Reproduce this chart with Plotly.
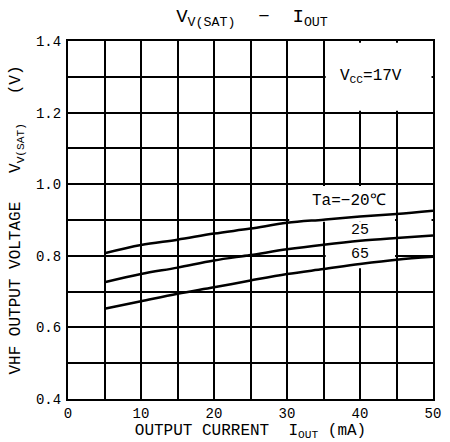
import plotly.graph_objects as go

# Data
i_out = [5, 10, 15, 20, 25, 30, 35, 40, 45, 50]
v_m20 = [0.807, 0.830, 0.845, 0.862, 0.876, 0.892, 0.901, 0.910, 0.917, 0.926]
v_25 = [0.726, 0.749, 0.767, 0.787, 0.802, 0.818, 0.831, 0.842, 0.850, 0.857]
v_65 = [0.652, 0.673, 0.694, 0.712, 0.731, 0.749, 0.763, 0.777, 0.789, 0.797]
series_names = ["Ta=−20℃", "25", "65"]
x_ticks = [0, 10, 20, 30, 40, 50]
y_ticks = [0.4, 0.6, 0.8, 1.0, 1.2, 1.4]
y_tick_text = ["0.4", "0.6", "0.8", "1.0", "1.2", "1.4"]

FONT = "Liberation Mono, Courier New, monospace"

fig = go.Figure()
for name, ys in zip(series_names, [v_m20, v_25, v_65]):
    fig.add_trace(go.Scatter(x=i_out, y=ys, mode="lines", name=name,
                             line=dict(color="black", width=2.5, shape="spline"),
                             showlegend=False, hoverinfo="skip"))

# white label boxes that interrupt the grid (drawn between grid and traces)
masks = [
    (35.3, 49.8, 1.205, 1.395),
    (30.3, 44.8, 0.895, 0.995),
    (45.2, 49.8, 0.895, 0.995),
    (35.3, 44.8, 0.765, 0.895),
]
for x0, x1, y0, y1 in masks:
    fig.add_shape(type="rect", x0=x0, x1=x1, y0=y0, y1=y1, layer="between",
                  fillcolor="white", line=dict(width=0))

LBL = dict(family=FONT, size=15, color="black")
fig.add_annotation(x=41.5, y=1.3, text="V<sub>CC</sub>=17V", showarrow=False,
                   font=dict(family=FONT, size=16, color="black"))
fig.add_annotation(x=38.5, y=0.952, text="Ta=−20℃", showarrow=False,
                   font=dict(family=FONT, size=16, color="black"))
fig.add_annotation(x=40, y=0.872, text="25", showarrow=False, font=LBL)
fig.add_annotation(x=40, y=0.803, text="65", showarrow=False, font=LBL)

fig.update_layout(
    width=450, height=442,
    margin=dict(l=68, r=9, t=41, b=39),
    paper_bgcolor="white", plot_bgcolor="white",
    font=dict(family=FONT, size=13, color="black"),
    title=dict(text="V<sub>V(SAT)</sub>  −  I<sub>OUT</sub>", x=0.56, xanchor="center",
               y=0.965, yanchor="middle", font=dict(family=FONT, size=19, color="black")),
    xaxis=dict(range=[0, 50], tickvals=x_ticks, ticks="", showgrid=True,
               gridcolor="black", gridwidth=1.6, zeroline=False,
               minor=dict(dtick=5, tick0=0, showgrid=True, gridcolor="black", gridwidth=1.6),
               showline=True, mirror=True, linecolor="black", linewidth=2.2,
               tickfont=dict(family=FONT, size=14), ticklabelstandoff=0,
               title=dict(text="OUTPUT CURRENT  I<sub>OUT</sub> (mA)", standoff=0,
                          font=dict(family=FONT, size=16))),
    yaxis=dict(range=[0.4, 1.4], tickvals=y_ticks, ticktext=y_tick_text, ticks="",
               showgrid=True, gridcolor="black", gridwidth=1.6, zeroline=False,
               minor=dict(dtick=0.1, tick0=0.4, showgrid=True, gridcolor="black", gridwidth=1.6),
               showline=True, mirror=True, linecolor="black", linewidth=2.2,
               tickfont=dict(family=FONT, size=14), ticklabelstandoff=2,
               title=dict(text="VHF OUTPUT VOLTAGE   V<sub>V(SAT)</sub>   (V)", standoff=11,
                          font=dict(family=FONT, size=16))),
)

fig.write_html("out.html", config={"displayModeBar": False},
               post_script="document.body.style.margin='0';")
